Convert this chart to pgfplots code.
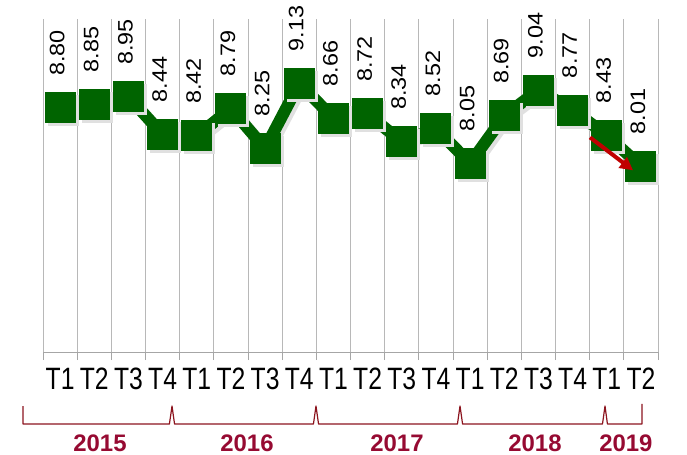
\documentclass[border=0pt]{standalone}
\usepackage{fontspec}
\setmainfont{Liberation Sans}
\usepackage{pgfplots}
\pgfplotsset{compat=1.18}
\usetikzlibrary{arrows.meta}
\definecolor{dkgreen}{RGB}{0,100,0}
\definecolor{bracec}{RGB}{140,20,30}
\definecolor{yearc}{RGB}{150,10,50}
\definecolor{arrowred}{RGB}{192,0,0}
\newcommand{\tl}[1]{\scalebox{0.8}[1]{#1}}
\begin{document}
\begin{tikzpicture}
\useasboundingbox (0,0) rectangle (687bp,455bp);
\begin{axis}[
  at={(43bp,103bp)}, anchor=south west,
  scale only axis, width=615bp, height=333bp,
  xmin=-0.5, xmax=17.5, ymin=5.5, ymax=10,
  axis x line*=bottom, axis y line=none,
  xtick={0,1,2,3,4,5,6,7,8,9,10,11,12,13,14,15,16,17},
  xticklabels={\tl{T1},\tl{T2},\tl{T3},\tl{T4},\tl{T1},\tl{T2},\tl{T3},\tl{T4},\tl{T1},\tl{T2},\tl{T3},\tl{T4},\tl{T1},\tl{T2},\tl{T3},\tl{T4},\tl{T1},\tl{T2}},
  major tick length=0pt,
  minor xtick={-0.5,0.5,1.5,2.5,3.5,4.5,5.5,6.5,7.5,8.5,9.5,10.5,11.5,12.5,13.5,14.5,15.5,16.5,17.5},
  minor tick length=8bp,
  tick align=outside,
  xminorgrids=true,
  minor grid style={draw=black!28, line width=1bp},
  minor tick style={draw=black!35, line width=1bp},
  axis line style={draw=black!35, line width=1bp},
  xticklabel style={font=\fontsize{31}{31}\selectfont, inner sep=0pt, anchor=north, yshift=-16bp},
  ytick=\empty,
  clip=false,
]
% shadow
\addplot[draw=black!12, line width=12bp, line join=bevel, mark=square*, mark size=15bp,
  mark options={draw=none, fill=black!12, line width=0pt, line join=miter}, xshift=3bp, yshift=-3bp]
coordinates {(0,8.80) (1,8.85) (2,8.95) (3,8.44) (4,8.42) (5,8.79) (6,8.25) (7,9.13) (8,8.66)
 (9,8.72) (10,8.34) (11,8.52) (12,8.05) (13,8.69) (14,9.04) (15,8.77) (16,8.43) (17,8.01)};
% main series
\addplot[draw=dkgreen, line width=12bp, line join=bevel, mark=square*, mark size=15bp,
  mark options={draw=none, fill=dkgreen, line width=0pt, line join=miter},
  point meta=explicit symbolic,
  nodes near coords={\rotatebox{90}{\scalebox{1.12}[1]{\pgfplotspointmeta}}},
  every node near coord/.append style={font=\fontsize{21}{21}\selectfont, inner sep=0pt, anchor=south, xshift=-3bp, yshift=32bp, text=black}]
coordinates {(0,8.80)[8.80] (1,8.85)[8.85] (2,8.95)[8.95] (3,8.44)[8.44] (4,8.42)[8.42] (5,8.79)[8.79]
 (6,8.25)[8.25] (7,9.13)[9.13] (8,8.66)[8.66] (9,8.72)[8.72] (10,8.34)[8.34] (11,8.52)[8.52]
 (12,8.05)[8.05] (13,8.69)[8.69] (14,9.04)[9.04] (15,8.77)[8.77] (16,8.43)[8.43] (17,8.01)[8.01]};
\coordinate (arA) at (axis cs:15.51,8.40);
\coordinate (arB) at (axis cs:16.77,7.955);
% braces
\draw[bracec, line width=1.2bp, line join=round]
 (axis cs:-1.085,4.770) -- (axis cs:-1.085,4.527)
 -- (axis cs:3.20,4.527) -- (axis cs:3.276,4.770) -- (axis cs:3.35,4.527)
 -- (axis cs:7.415,4.527) -- (axis cs:7.49,4.770) -- (axis cs:7.565,4.527)
 -- (axis cs:11.63,4.527) -- (axis cs:11.705,4.770) -- (axis cs:11.78,4.527)
 -- (axis cs:15.875,4.527) -- (axis cs:15.949,4.770) -- (axis cs:16.02,4.527)
 -- (axis cs:17.031,4.527) -- (axis cs:17.031,4.80);
% years
\node[font=\bfseries\fontsize{24}{24}\selectfont, text=yearc] at (axis cs:1.168,4.27) {2015};
\node[font=\bfseries\fontsize{24}{24}\selectfont, text=yearc] at (axis cs:5.47,4.27) {2016};
\node[font=\bfseries\fontsize{24}{24}\selectfont, text=yearc] at (axis cs:9.86,4.27) {2017};
\node[font=\bfseries\fontsize{24}{24}\selectfont, text=yearc] at (axis cs:13.90,4.27) {2018};
\node[font=\bfseries\fontsize{24}{24}\selectfont, text=yearc] at (axis cs:16.56,4.27) {2019};
\end{axis}
\draw[arrowred, line width=4bp, -{Triangle[length=13bp,width=13bp]}] (arA) -- (arB);
\end{tikzpicture}
\end{document}
